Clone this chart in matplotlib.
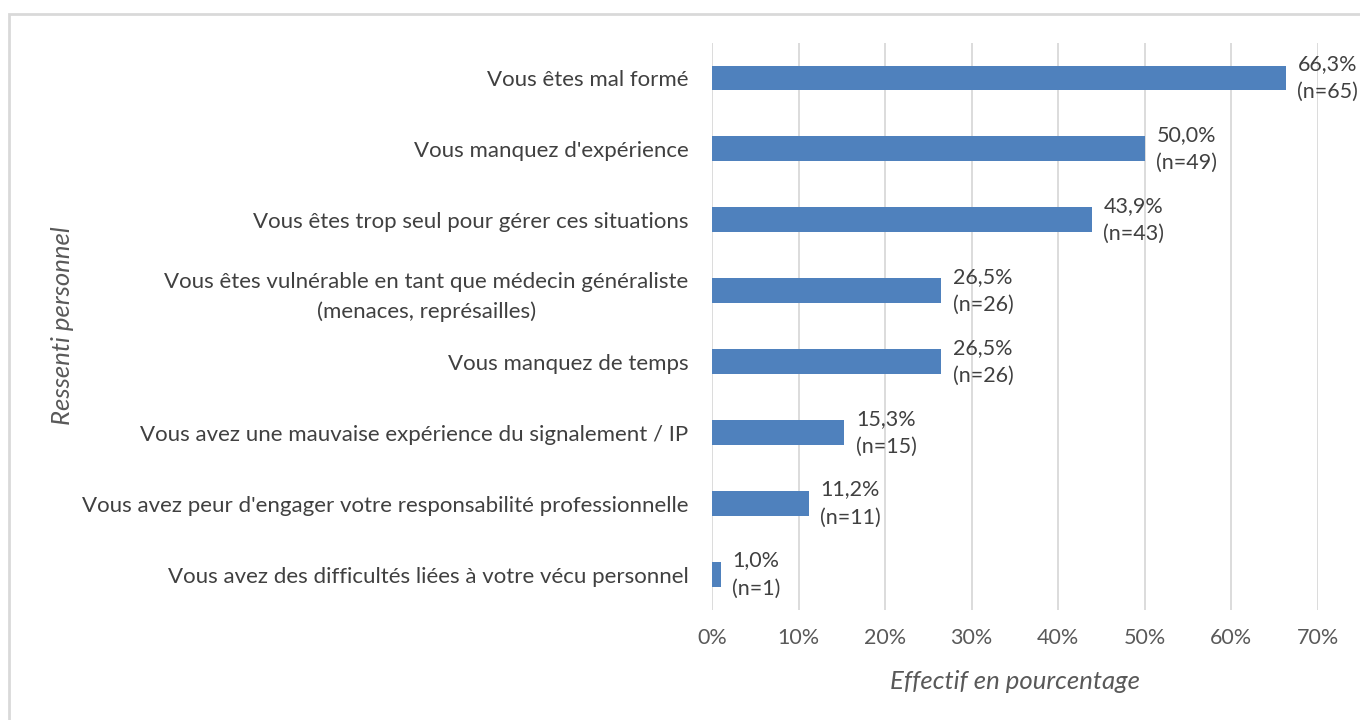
import matplotlib.pyplot as plt
from matplotlib.patches import Rectangle

categories = [
    "Vous êtes mal formé",
    "Vous manquez d'expérience",
    "Vous êtes trop seul pour gérer ces situations",
    "Vous êtes vulnérable en tant que médecin généraliste\n(menaces, représailles)",
    "Vous manquez de temps",
    "Vous avez une mauvaise expérience du signalement / IP",
    "Vous avez peur d'engager votre responsabilité professionnelle",
    "Vous avez des difficultés liées à votre vécu personnel",
]
percent = [66.3, 50.0, 43.9, 26.5, 26.5, 15.3, 11.2, 1.0]
counts = [65, 49, 43, 26, 26, 15, 11, 1]
xticks = [0, 10, 20, 30, 40, 50, 60, 70]

plt.rcParams['font.family'] = ['Lato', 'DejaVu Sans']
text_col = '#404040'

fig = plt.figure(figsize=(13.6, 7.2), dpi=100)
W, H = 1360, 720
ax = fig.add_axes([712 / W, 1 - 610 / H, (1318 - 712) / W, (610 - 42.5) / H])

# outer frame of the chart (Excel style), cut off on right and bottom
fig.patches.append(Rectangle((8.5 / W, -0.1), 2, 1 - 14 / H + 0.1, transform=fig.transFigure,
                             fill=False, edgecolor='#d9d9d9', linewidth=2))

y = list(range(len(categories)))[::-1]
ax.barh(y, percent, height=0.35, color='#4f81bd', zorder=3)

for yi, p, n in zip(y, percent, counts):
    label = f"{p:.1f}%".replace('.', ',') + f"\n(n={n})"
    ax.annotate(label, (p, yi), xytext=(8, 0), textcoords='offset points',
                ha='left', va='center', multialignment='center',
                fontsize=15.5, color=text_col, linespacing=1.5)

ax.set_xlim(0, 70)
ax.set_ylim(-0.5, len(categories) - 0.5)
ax.set_xticks(xticks)
ax.set_xticklabels([f"{t}%" for t in xticks], fontsize=15.5, color='#595959')
ax.set_yticks(y)
ax.set_yticklabels(categories, fontsize=16, color=text_col, multialignment='center',
                   linespacing=1.55)
ax.tick_params(axis='both', length=0)
ax.tick_params(axis='x', pad=13)
ax.tick_params(axis='y', pad=17)
ax.grid(axis='x', color='#d9d9d9', linewidth=1.3, zorder=0)
for s in ax.spines.values():
    s.set_visible(False)

ax.set_xlabel("Effectif en pourcentage", fontsize=18.5, style='italic', color='#595959', labelpad=16)
fig.text(62 / W, 1 - 326 / H, "Ressenti personnel", rotation=90, fontsize=18.5,
         style='italic', color='#595959', ha='center', va='center')

fig.savefig('out.png', dpi=100)
